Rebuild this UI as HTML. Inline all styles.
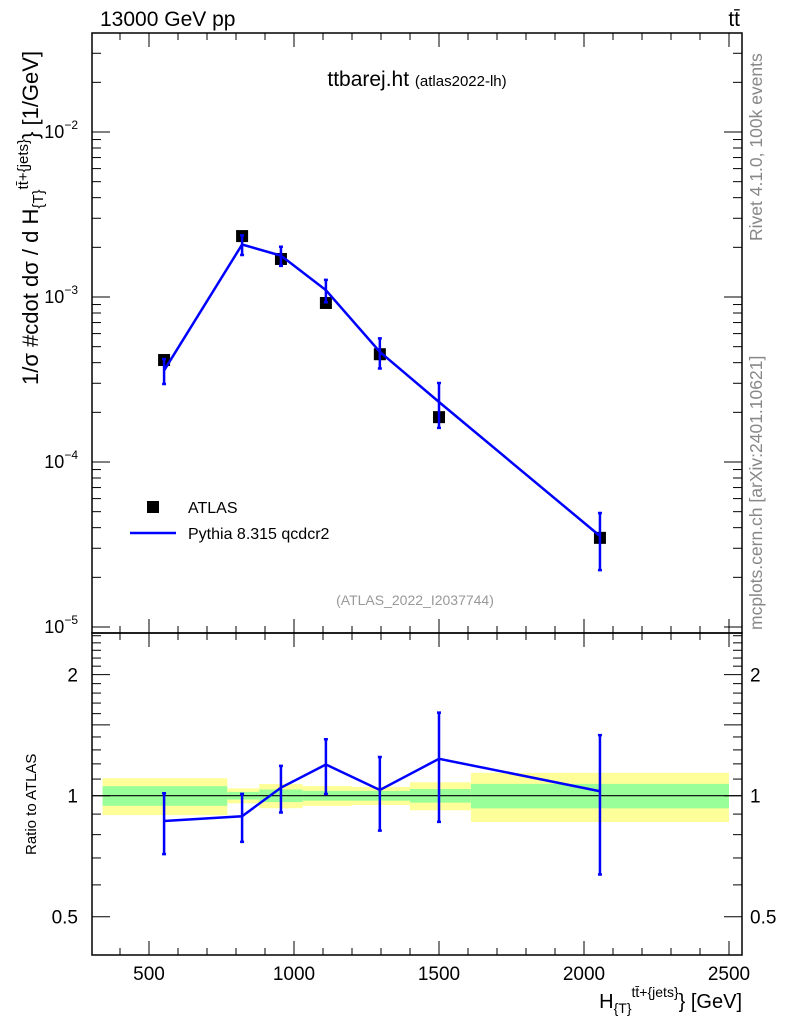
<!DOCTYPE html>
<html><head><meta charset="utf-8"><style>
body{margin:0;background:#fff;}
svg{display:block;font-family:"Liberation Sans",sans-serif;}
</style></head><body>
<svg id="c" width="786" height="1024" xmlns="http://www.w3.org/2000/svg">
<text x="100" y="26" font-size="21">13000 GeV pp</text>
<text x="740" y="26" font-size="21" text-anchor="end">tt̄</text>
<text x="417" y="86" font-size="21" text-anchor="middle">ttbarej.ht <tspan font-size="15">(atlas2022-lh)</tspan></text>
<text x="415" y="605" font-size="14" fill="#999" text-anchor="middle">(ATLAS_2022_I2037744)</text>
<text transform="translate(762,241) rotate(-90)" font-size="17.5" fill="#888">Rivet 4.1.0,  100k events</text>
<text transform="translate(762,630) rotate(-90)" font-size="17.5" fill="#888">mcplots.cern.ch [arXiv:2401.10621]</text>
<text transform="translate(38,385) rotate(-90)" font-size="22">1/σ #cdot dσ / d H<tspan font-size="15" dy="5">{T}</tspan><tspan font-size="15" dy="-15">tt̄+{jets}</tspan><tspan dy="10">} [1/GeV]</tspan></text>
<text transform="translate(36,855) rotate(-90)" font-size="15">Ratio to ATLAS</text>
<text x="742" y="1008" font-size="20" text-anchor="end">H<tspan font-size="14" dy="5">{T}</tspan><tspan font-size="14" dy="-16">tt̄+{jets}</tspan><tspan dy="11">} [GeV]</tspan></text>
<rect x="147" y="501" width="12" height="12" fill="#000"/>
<text x="188" y="513" font-size="16">ATLAS</text>
<line x1="130" y1="533" x2="176" y2="533" stroke="#00f" stroke-width="2.5"/>
<text x="188" y="539" font-size="16">Pythia 8.315 qcdcr2</text>
<g id="g"></g>
</svg>
<script>
const binEdges=[340,770,880,1030,1200,1400,1610,2500];
const xVals=[552,821,955,1110,1296,1500,2055];
const dataVals=[4.15e-4,2.34e-3,1.70e-3,9.2e-4,4.5e-4,1.87e-4,3.47e-5];
const dataTotRel=[0.105,0.043,0.069,0.057,0.052,0.08,0.14];
const dataStatRel=[0.056,0.022,0.036,0.028,0.028,0.039,0.07];
const mcVals=[3.59e-4,2.08e-3,1.78e-3,1.10e-3,4.65e-4,2.31e-4,3.56e-5];
const mcErr=[6.2e-5,2.84e-4,2.36e-4,1.71e-4,9.65e-5,7.0e-5,1.35e-5];
const xTicks=[500,1000,1500,2000,2500];
const yTickExps=[-5,-4,-3,-2];
const rTicks=[0.5,1,2];

const NS="http://www.w3.org/2000/svg";
const g=document.getElementById('g');
function el(t,a,p){const e=document.createElementNS(NS,t);for(const k in a)e.setAttribute(k,a[k]);(p||g).appendChild(e);return e;}
const X=v=>4+0.29*v;
const Y=v=>297-165*(Math.log10(v)+3);
const R=v=>795.7-402*Math.log10(v);
const L=92,Rt=742,T=33,M=633,B=955;
for(let i=0;i<xVals.length;i++){
  const x1=X(binEdges[i]),x2=X(binEdges[i+1]);
  let b=el('rect',{x:x1,y:R(1+dataTotRel[i]),width:x2-x1,height:R(1-dataTotRel[i])-R(1+dataTotRel[i]),fill:'#ffff99'});
  
  
  b=el('rect',{x:x1,y:R(1+dataStatRel[i]),width:x2-x1,height:R(1-dataStatRel[i])-R(1+dataStatRel[i]),fill:'#99ff99'});
  
  
}
el('line',{x1:L,x2:Rt,y1:R(1),y2:R(1),stroke:'#000','stroke-width':1.2});
let f=el('rect',{x:L,y:T,width:Rt-L,height:M-T,fill:'none',stroke:'#000','stroke-width':1.5});


f=el('rect',{x:L,y:M,width:Rt-L,height:B-M,fill:'none',stroke:'#000','stroke-width':1.5});


for(let v=400;v<=2500;v+=100){
  const x=X(v),maj=v%500===0,l=maj?14:7;
  for(const [y0,d] of [[M,-1],[T,1],[B,-1],[M,1]]) el('line',{x1:x,x2:x,y1:y0,y2:y0+d*l,stroke:'#000'});
}
xTicks.forEach(v=>{const t=el('text',{x:X(v),y:980,'font-size':19,'text-anchor':'middle'});t.textContent=v;

});
for(let e=-6;e<=-2;e++)for(let m=1;m<10;m++){const v=m*Math.pow(10,e),y=Y(v);if(y<T||y>M)continue;const l=m===1?18:9;
el('line',{x1:L,x2:L+l,y1:y,y2:y,stroke:'#000'});el('line',{x1:Rt,x2:Rt-l,y1:y,y2:y,stroke:'#000'});}
yTickExps.forEach(e=>{const t=el('text',{x:78,y:Y(Math.pow(10,e))+6,'font-size':18,'text-anchor':'end'});
t.innerHTML='10<tspan font-size="12" dy="-9">'+e.toString().replace('-','−')+'</tspan>';

});
for(let v=0.4;v<=2.55;v+=0.1){const y=R(v);if(y<M||y>B)continue;const r=Math.round(v*10)/10;const maj=rTicks.includes(r)||r===1.5;const l=maj?18:9;
el('line',{x1:L,x2:L+l,y1:y,y2:y,stroke:'#000'});el('line',{x1:Rt,x2:Rt-l,y1:y,y2:y,stroke:'#000'});}
rTicks.forEach(v=>{for(const [x,a] of [[78,'end'],[750,'start']]){const t=el('text',{x:x,y:R(v)+7,'font-size':19,'text-anchor':a});t.textContent=v;

}});
xVals.forEach((xv,i)=>{const x=X(xv),y=Y(dataVals[i]);
const m=el('rect',{x:x-6,y:y-6,width:12,height:12,fill:'#000'});

});
let p=el('polyline',{points:xVals.map((v,i)=>X(v)+','+Y(mcVals[i])).join(' '),fill:'none',stroke:'#00f','stroke-width':2.5});


xVals.forEach((xv,i)=>{const x=X(xv);const y1=Y(mcVals[i]+mcErr[i]),y2=Y(mcVals[i]-mcErr[i]);
const e=el('path',{d:`M${x},${y1}V${y2}M${x-2},${y1}h4M${x-2},${y2}h4`,stroke:'#00f','stroke-width':2.5,fill:'none'});

});
p=el('polyline',{points:xVals.map((v,i)=>X(v)+','+R(mcVals[i]/dataVals[i])).join(' '),fill:'none',stroke:'#00f','stroke-width':2.5});


xVals.forEach((xv,i)=>{const x=X(xv);const y1=R((mcVals[i]+mcErr[i])/dataVals[i]),y2=R((mcVals[i]-mcErr[i])/dataVals[i]);
const e=el('path',{d:`M${x},${y1}V${y2}M${x-2},${y1}h4M${x-2},${y2}h4`,stroke:'#00f','stroke-width':2.5,fill:'none'});

});
</script>
</body></html>
